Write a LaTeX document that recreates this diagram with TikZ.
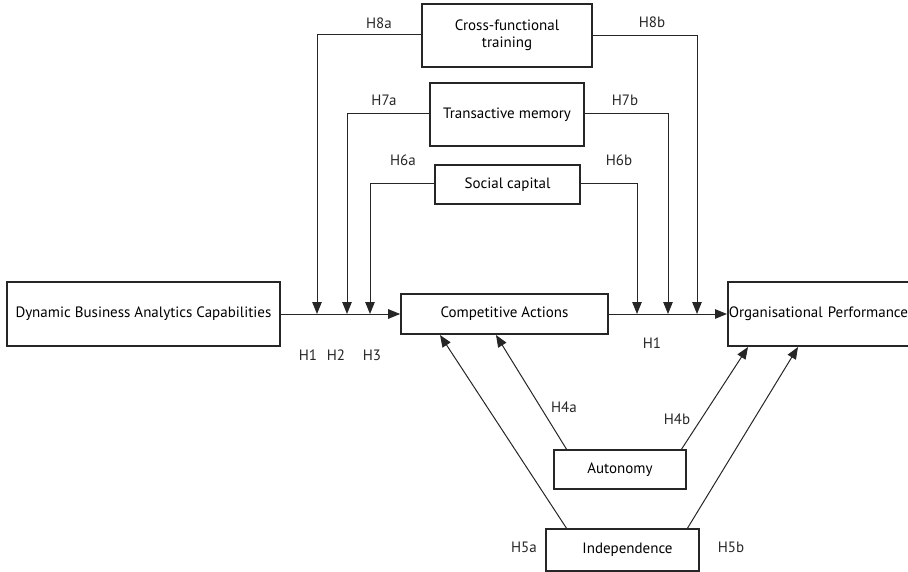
\documentclass[tikz,border=0pt]{standalone}
\usepackage{fontspec}
\setmainfont{PT Sans}
\usetikzlibrary{arrows.meta}
\begin{document}
\begin{tikzpicture}[x=1pt,y=-1pt,
  box/.style={draw=black!85,line width=1.6pt,inner sep=0pt,font=\fontsize{15}{17.5}\selectfont},
  conn/.style={draw=black!85,line width=1pt},
  arr/.style={conn,-{Triangle[length=12pt,width=9.5pt]}},
  lab/.style={font=\fontsize{15}{17.5}\selectfont,inner sep=0pt,text=black!85}]
\useasboundingbox (0,0) rectangle (908,572);
\clip (0,0) rectangle (908,572);
% boxes
\node[box,minimum width=170,minimum height=63,align=center] (cft) at (507,35.5) {Cross-functional\\training};
\node[box,minimum width=154,minimum height=63] (tm) at (507,114.5) {Transactive memory};
\node[box,minimum width=145,minimum height=39] (sc) at (507.5,184.5) {Social capital};
\node[box,minimum width=273,minimum height=64] (dbac) at (143.5,314) {Dynamic Business Analytics Capabilities};
\node[box,minimum width=207,minimum height=40] (ca) at (504.5,314) {Competitive Actions};
\node[box,anchor=west,minimum width=260,minimum height=64,text width=258pt,inner xsep=1pt,align=left] (op) at (727,314) {Organisational Performance};
\node[box,minimum width=132,minimum height=39] (aut) at (620,469.5) {Autonomy};
\node[box,minimum width=153,minimum height=42,text width=143pt,align=center] (ind) at (622.5,550) {\hspace*{10pt}Independence};
% coordinates
\coordinate (j1) at (317,314);
\coordinate (j2) at (347,314);
\coordinate (j3) at (370,314);
\coordinate (k1) at (637,314);
\coordinate (k2) at (668,314);
\coordinate (k3) at (697,314);
% main path
\draw[conn] (dbac.east) -- (j1);
\draw[arr] (j1) -- (ca.west);
\draw[conn] (ca.east) -- (k1);
\draw[arr] (k1) -- (op.west);
% moderator arrows
\draw[arr] (cft.west |- 0,35) -- (317,35) -- (j1);
\draw[arr] (tm.west |- 0,114) -- (347,114) -- (j2);
\draw[arr] (sc.west |- 0,184) -- (370,184) -- (j3);
\draw[arr] (cft.east |- 0,36) -- (697,36) -- (k3);
\draw[arr] (tm.east |- 0,114) -- (668,114) -- (k2);
\draw[arr] (sc.east |- 0,184) -- (637,184) -- (k1);
% diagonals
\coordinate (ca1) at (440,335);
\coordinate (ca2) at (496,335);
\coordinate (op1) at (748,347);
\coordinate (op2) at (798,347);
\draw[arr] (567,529) -- (ca1);
\draw[arr] (567,450) -- (ca2);
\draw[arr] (681,450) -- (op1);
\draw[arr] (687,529) -- (op2);
% labels
\node[lab] (l8a) at (379,23) {H8a};
\node[lab] (l8b) at (652,22) {H8b};
\node[lab] (l7a) at (384,100) {H7a};
\node[lab] (l7b) at (625,100) {H7b};
\node[lab] (l6a) at (403,160) {H6a};
\node[lab] (l6b) at (619,160) {H6b};
\node[lab] (lh1) at (308,355) {H1};
\node[lab] (lh2) at (336,355) {H2};
\node[lab] (lh3) at (372,355) {H3};
\node[lab] (lh1b) at (652,343) {H1};
\node[lab] (l4a) at (564,407) {H4a};
\node[lab] (l4b) at (677,419) {H4b};
\node[lab] (l5a) at (524,547) {H5a};
\node[lab] (l5b) at (731,547) {H5b};
\end{tikzpicture}
\end{document}
